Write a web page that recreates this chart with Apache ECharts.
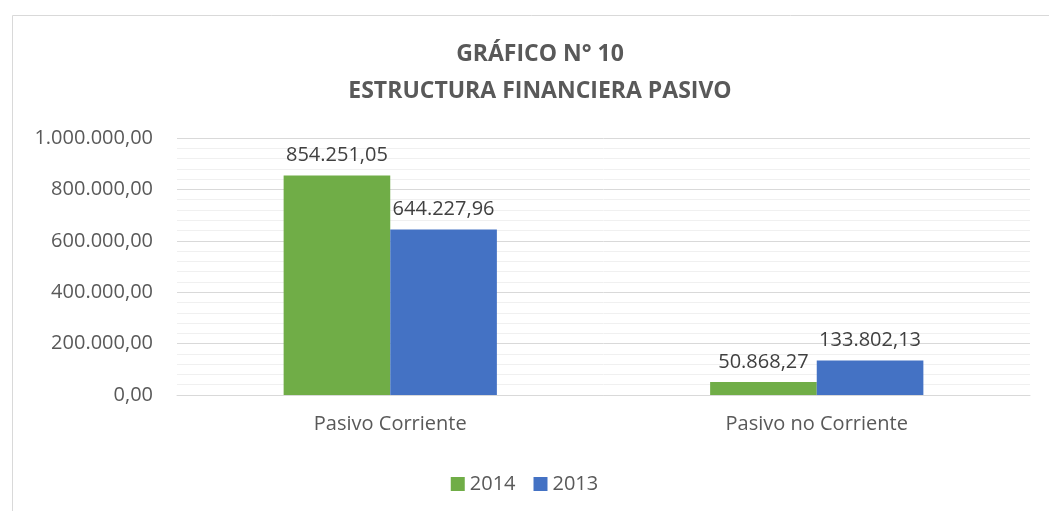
<!DOCTYPE html>
<html><head><meta charset="utf-8">
<script src="https://cdn.jsdelivr.net/npm/echarts@6/dist/echarts.min.js"></script>
<style>html,body{margin:0;padding:0;background:#fff}#c{width:1049px;height:511px}</style>
</head><body><div id="c"></div>
<script>
const categories = ['Pasivo Corriente', 'Pasivo no Corriente'];
const seriesNames = ['2014', '2013'];
const values2014 = [854251.05, 50868.27];
const values2013 = [644227.96, 133802.13];
const yMin = 0, yMax = 1000000, yInterval = 200000;

function fmt(v) {
  const parts = v.toFixed(2).split('.');
  const intPart = parts[0].replace(/\B(?=(\d{3})+(?!\d))/g, '.');
  return intPart + ',' + parts[1];
}
const font = '"Open Sans", "Liberation Sans", Arial, sans-serif';
const chart = echarts.init(document.getElementById('c'));
chart.setOption({
  animation: false,
  graphic: [{type: 'rect', left: 10, top: 13, shape: {width: 1100, height: 600}, style: {fill: 'none', stroke: '#d9d9d9', lineWidth: 1}, silent: true}],
  title: {
    text: 'GRÁFICO N° 10\nESTRUCTURA FINANCIERA PASIVO',
    left: 535, top: 31, textAlign: 'center',
    textStyle: {fontFamily: font, fontSize: 23, fontWeight: 'bold', color: '#595959', lineHeight: 37}
  },
  legend: {
    top: 469, left: 'center', itemWidth: 14, itemHeight: 14, itemGap: 18,
    icon: 'rect',
    textStyle: {fontFamily: font, fontSize: 20, color: '#595959'},
    data: seriesNames
  },
  grid: {left: 177, right: 19, top: 138, bottom: 116},
  xAxis: {
    type: 'category', data: categories,
    axisLine: {lineStyle: {color: '#d9d9d9', width: 1}},
    axisTick: {show: false},
    axisLabel: {fontFamily: font, fontSize: 20, color: '#595959', margin: 19}
  },
  yAxis: {
    type: 'value', min: yMin, max: yMax, interval: yInterval,
    axisLine: {show: false}, axisTick: {show: false},
    axisLabel: {fontFamily: font, fontSize: 20, color: '#595959', margin: 24, formatter: fmt},
    splitLine: {lineStyle: {color: '#d9d9d9', width: 1}},
    minorTick: {show: false, splitNumber: 5},
    minorSplitLine: {show: true, lineStyle: {color: '#f0f0f0', width: 1}}
  },
  series: [
    {name: seriesNames[0], type: 'bar', data: values2014, barGap: '0%', barCategoryGap: '50%',
     itemStyle: {color: '#70ad47'},
     label: {show: true, position: 'top', distance: 10, fontFamily: font, fontSize: 20, color: '#404040', formatter: p => fmt(p.value)}},
    {name: seriesNames[1], type: 'bar', data: values2013, barGap: '0%', barCategoryGap: '50%',
     itemStyle: {color: '#4472c4'},
     label: {show: true, position: 'top', distance: 10, fontFamily: font, fontSize: 20, color: '#404040', formatter: p => fmt(p.value)}}
  ]
});
</script></body></html>
